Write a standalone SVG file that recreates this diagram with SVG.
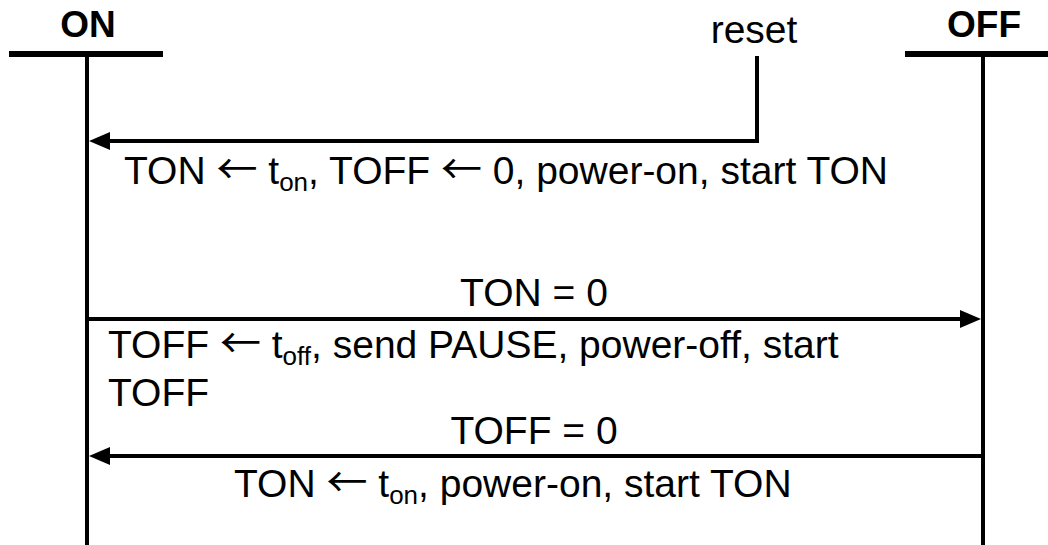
<svg xmlns="http://www.w3.org/2000/svg" width="1048" height="545" viewBox="0 0 1048 545">
  <style>
    .lbl { font-family: "Liberation Sans", Arial, sans-serif; font-size: 39px; fill: #000; }
    .hdr { font-family: "Liberation Sans", Arial, sans-serif; font-size: 37px; font-weight: bold; fill: #000; }
    .sub { font-size: 26px; }
    .arr { font-family: "Noto Sans CJK SC", "DejaVu Sans", sans-serif; font-size: 41px; }
    .bar { stroke: #000; stroke-width: 6; fill: none; }
    .life { stroke: #000; stroke-width: 4; fill: none; }
    .msg { stroke: #000; stroke-width: 4; fill: none; }
  </style>
  <defs>
    <marker id="arrow" viewBox="0 0 21 18" refX="11" refY="9" markerWidth="21" markerHeight="18" markerUnits="userSpaceOnUse" orient="auto">
      <path d="M0,0 L21,9 L0,18 Z" fill="#000"/>
    </marker>
  </defs>
  <rect width="1048" height="545" fill="#fff"/>

  <g id="state-on">
    <text class="hdr" x="88" y="37" text-anchor="middle">ON</text>
    <line class="bar" x1="9" y1="54" x2="163" y2="54"/>
    <line class="life" x1="87" y1="57" x2="87" y2="545"/>
  </g>

  <g id="state-off">
    <text class="hdr" x="984" y="37" text-anchor="middle">OFF</text>
    <line class="bar" x1="905" y1="54" x2="1048" y2="54"/>
    <line class="life" x1="983" y1="57" x2="983" y2="545"/>
  </g>

  <g id="reset">
    <text class="lbl" x="754" y="43" text-anchor="middle">reset</text>
  </g>

  <g id="connectors">
    <polyline class="msg" points="757,56 757,141 99,141" marker-end="url(#arrow)"/>
    <line class="msg" x1="87" y1="319" x2="971" y2="319" marker-end="url(#arrow)"/>
    <line class="msg" x1="983" y1="456" x2="99" y2="456" marker-end="url(#arrow)"/>
  </g>

  <g id="labels">
    <text class="lbl" x="124" y="184">TON <tspan class="arr">←</tspan> t<tspan class="sub" dy="7">on</tspan><tspan dy="-7">, TOFF </tspan><tspan class="arr">←</tspan> 0, power-on, start TON</text>
    <text class="lbl" x="534" y="306" text-anchor="middle">TON = 0</text>
    <text class="lbl" x="108" y="358">TOFF <tspan class="arr">←</tspan> t<tspan class="sub" dy="7">off</tspan><tspan dy="-7">, send PAUSE, power-off, start</tspan></text>
    <text class="lbl" x="108" y="406">TOFF</text>
    <text class="lbl" x="534" y="444" text-anchor="middle">TOFF = 0</text>
    <text class="lbl" x="234" y="497">TON <tspan class="arr">←</tspan> t<tspan class="sub" dy="7">on</tspan><tspan dy="-7">, power-on, start TON</tspan></text>
  </g>
</svg>
